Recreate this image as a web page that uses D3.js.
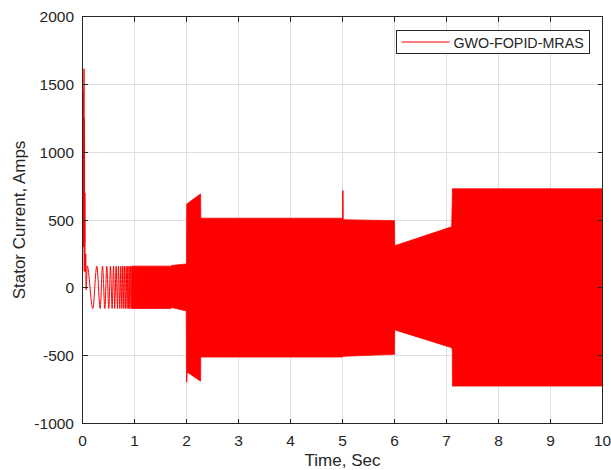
<!DOCTYPE html>
<html>
<head>
<meta charset="utf-8">
<script src="https://cdn.jsdelivr.net/npm/d3@7/dist/d3.min.js"></script>
<style>
  html, body { margin: 0; padding: 0; background: #ffffff; }
  svg { display: block; }
  text { font-family: "Liberation Sans", Arial, Helvetica, sans-serif; fill: #262626; }
</style>
</head>
<body>
<svg id="chart" width="611" height="470"></svg>
<script>
// Axis ticks
const xTicks = [0, 1, 2, 3, 4, 5, 6, 7, 8, 9, 10];
const yTicks = [-1000, -500, 0, 500, 1000, 1500, 2000];

// Stator current at start-up: inrush spike (time s, current A)
const startTime = [0, 0.006, 0.012, 0.018, 0.024, 0.030, 0.034, 0.038, 0.042, 0.046, 0.050, 0.054, 0.058, 0.062, 0.066, 0.072, 0.080, 0.090];
const startAmps = [0, 900, 1450, 300, 1300, 1615, 120, 1250, 330, 700, 260, 240, 120, 250, 20, -15, 60, 162];

// Low-frequency swings while the supply frequency ramps up (time s, current A)
const swingTime = [0.198, 0.275, 0.340, 0.385, 0.430, 0.467, 0.506, 0.538, 0.570, 0.596, 0.620, 0.647, 0.673, 0.692, 0.717, 0.737, 0.756, 0.775, 0.794, 0.807, 0.827, 0.840, 0.858, 0.871, 0.885, 0.897, 0.910, 0.923, 0.936, 0.948];
const swingAmps = [-152, 160, -152, 160, -152, 160, -152, 160, -152, 160, -152, 160, -152, 160, -152, 160, -152, 160, -152, 160, -152, 160, -152, 160, -152, 160, -152, 160, -152, 160];

// Envelope of the dense 50 Hz current from ~0.95 s to 10 s
const upperTime = [0.95, 1.70, 1.72, 2.00, 2.005, 2.27, 2.275, 5.00, 5.002, 5.012, 5.015, 6.00, 6.005, 7.10, 7.115, 10.0];
const upperAmps = [160, 160, 165, 176, 618, 692, 513, 513, 716, 716, 502, 495, 310, 450, 730, 730];
const lowerTime = [0.95, 1.70, 1.72, 1.995, 2.0, 2.006, 2.012, 2.27, 2.275, 5.00, 5.005, 6.00, 6.005, 7.10, 7.112, 7.115, 10.0];
const lowerAmps = [-152, -152, -145, -170, -695, -695, -620, -688, -510, -510, -505, -490, -310, -441, -460, -724, -724];

const svg = d3.select("#chart");
const x = d3.scaleLinear().domain([0, 10]).range([82.5, 602.5]);
const y = d3.scaleLinear().domain([-1000, 2000]).range([423.5, 16.5]);
const [x0, x1] = x.range();
const [yB, yT] = y.range();

// grid
const grid = svg.append("g").attr("stroke", "#dfdfdf").attr("stroke-width", 1).attr("shape-rendering", "crispEdges");
xTicks.forEach(t => grid.append("line").attr("x1", x(t)).attr("x2", x(t)).attr("y1", yT).attr("y2", yB));
yTicks.forEach(t => grid.append("line").attr("x1", x0).attr("x2", x1).attr("y1", y(t)).attr("y2", y(t)));

// clip
svg.append("defs").append("clipPath").attr("id", "plotClip")
  .append("rect").attr("x", x0).attr("y", yT).attr("width", x1 - x0).attr("height", yB - yT);

const plot = svg.append("g").attr("clip-path", "url(#plotClip)");
const line = d3.line().x(d => x(d[0])).y(d => y(d[1]));
const smooth = d3.line().x(d => x(d[0])).y(d => y(d[1])).curve(d3.curveMonotoneX);

// start-up trace and ramp-up swings
const trace = startTime.map((t, i) => [t, startAmps[i]])
  .concat(swingTime.map((t, i) => [t, swingAmps[i]]));
plot.append("path").datum(trace)
  .attr("d", smooth).attr("fill", "none").attr("stroke", "#ff0000").attr("stroke-width", 1);

// dense steady-state band
const band = upperTime.map((t, i) => [t, upperAmps[i]])
  .concat(lowerTime.map((t, i) => [t, lowerAmps[i]]).reverse());
plot.append("path").datum(band)
  .attr("d", d => line(d) + "Z")
  .attr("fill", "#ff0000").attr("stroke", "#ff0000").attr("stroke-width", 0.8);

// axes box
svg.append("rect").attr("x", x0).attr("y", yT).attr("width", x1 - x0).attr("height", yB - yT)
  .attr("fill", "none").attr("stroke", "#262626").attr("stroke-width", 1).attr("shape-rendering", "crispEdges");

// ticks (inward, all four sides)
const tk = svg.append("g").attr("stroke", "#262626").attr("stroke-width", 1).attr("shape-rendering", "crispEdges");
const tl = 5;
xTicks.forEach(t => {
  tk.append("line").attr("x1", x(t)).attr("x2", x(t)).attr("y1", yB).attr("y2", yB - tl);
  tk.append("line").attr("x1", x(t)).attr("x2", x(t)).attr("y1", yT).attr("y2", yT + tl);
});
yTicks.forEach(t => {
  tk.append("line").attr("x1", x0).attr("x2", x0 + tl).attr("y1", y(t)).attr("y2", y(t));
  tk.append("line").attr("x1", x1).attr("x2", x1 - tl).attr("y1", y(t)).attr("y2", y(t));
});

// tick labels
svg.append("g").selectAll("text").data(xTicks).join("text")
  .attr("x", d => x(d)).attr("y", 446).attr("text-anchor", "middle")
  .style("font-size", "15.5px").text(d => d);
svg.append("g").selectAll("text").data(yTicks).join("text")
  .attr("x", 74).attr("y", d => y(d)).attr("dy", "0.36em").attr("text-anchor", "end")
  .style("font-size", "15.5px").text(d => d);

// axis titles
svg.append("text").attr("x", (x0 + x1) / 2).attr("y", 465.5).attr("text-anchor", "middle")
  .style("font-size", "17px").text("Time, Sec");
svg.append("text").attr("transform", `translate(25,${(yT + yB) / 2}) rotate(-90)`)
  .attr("text-anchor", "middle").style("font-size", "17px").text("Stator Current, Amps");

// legend
const lg = svg.append("g");
lg.append("rect").attr("x", 396.5).attr("y", 30.5).attr("width", 193).attr("height", 23)
  .attr("fill", "#ffffff").attr("stroke", "#262626").attr("stroke-width", 1).attr("shape-rendering", "crispEdges");
lg.append("line").attr("x1", 401.5).attr("x2", 449.5).attr("y1", 42).attr("y2", 42)
  .attr("stroke", "#ff0000").attr("stroke-width", 1);
lg.append("text").attr("x", 453.5).attr("y", 47.7).style("font-size", "14.3px").text("GWO-FOPID-MRAS");
</script>
</body>
</html>
